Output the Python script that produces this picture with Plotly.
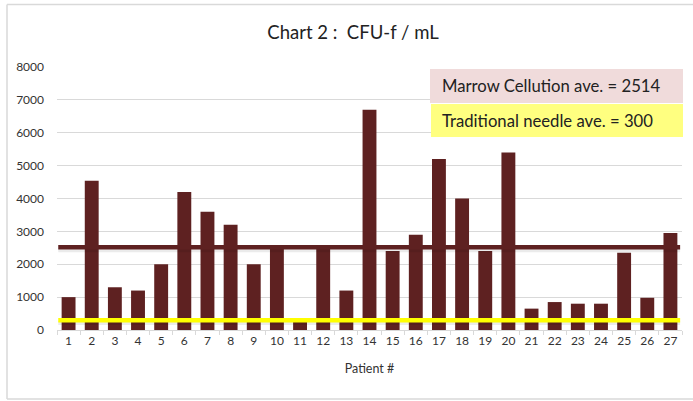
import plotly.graph_objects as go

patients = [str(i) for i in range(1, 28)]
cfu_values = [1000, 4540, 1300, 1200, 2000, 4200, 3600, 3200, 2000, 2500,
              250, 2500, 1200, 6700, 2400, 2900, 5200, 4000, 2400, 5400,
              650, 850, 800, 800, 2350, 980, 2950]
marrow_avg = 2514
needle_avg = 300
y_ticks = [0, 1000, 2000, 3000, 4000, 5000, 6000, 7000, 8000]

W, H = 693, 401
L, R, T, B = 57, 11, 67, 71
pw, ph = W - L - R, H - T - B

def px(x):
    return (x - L) / pw

def py(y):
    return (H - B - y) / ph

FONT = "Lato, 'Open Sans', sans-serif"

fig = go.Figure()
fig.add_trace(go.Bar(x=patients, y=cfu_values, marker=dict(color="#5e2121", line=dict(width=0)),
                     width=0.6, showlegend=False, hoverinfo="skip"))

# shadows + average lines
for val, col in [(marrow_avg, "#5e2121"), (needle_avg, "#ffff00")]:
    fig.add_shape(type="line", xref="x domain", yref="y", x0=0.002, x1=0.997,
                  y0=val - 90, y1=val - 90, line=dict(color="rgba(0,0,0,0.08)", width=4), layer="above")
    fig.add_shape(type="line", xref="x domain", yref="y", x0=0.002, x1=0.997,
                  y0=val, y1=val, line=dict(color=col, width=4.5), layer="above")

# outer border (top, left, bottom)
border = dict(color="#d9d9d9", width=1.5)
fig.add_shape(type="line", xref="paper", yref="paper", x0=px(7), x1=px(693), y0=py(4.5), y1=py(4.5), line=border)
fig.add_shape(type="line", xref="paper", yref="paper", x0=px(7), x1=px(7), y0=py(4.5), y1=py(399), line=border)
fig.add_shape(type="line", xref="paper", yref="paper", x0=px(7), x1=px(693), y0=py(399), y1=py(399), line=border)

# legend boxes
fig.add_shape(type="rect", xref="paper", yref="paper", x0=px(430), x1=px(683), y0=py(103), y1=py(69),
              fillcolor="#f0dbdb", line=dict(width=0), layer="above")
fig.add_shape(type="rect", xref="paper", yref="paper", x0=px(431), x1=px(683), y0=py(137), y1=py(104),
              fillcolor="#ffff80", line=dict(width=0), layer="above")
fig.add_annotation(xref="paper", yref="paper", x=px(440), y=py(86), xanchor="left", yanchor="middle",
                   text=f"Marrow Cellution ave. = {marrow_avg}", showarrow=False,
                   font=dict(family=FONT, size=16.7, color="#222"))
fig.add_annotation(xref="paper", yref="paper", x=px(440), y=py(121), xanchor="left", yanchor="middle",
                   text=f"Traditional needle ave. = {needle_avg}", showarrow=False,
                   font=dict(family=FONT, size=16.7, color="#222"))

fig.update_layout(
    width=W, height=H,
    margin=dict(l=L, r=R, t=T, b=B),
    paper_bgcolor="white", plot_bgcolor="white",
    title=dict(text="Chart 2 :  CFU-f / mL", xref="container", x=353 / W, xanchor="center",
               y=1 - 33 / H, yanchor="middle",
               font=dict(family=FONT, size=18.5, color="#222")),
    font=dict(family=FONT, size=11, color="#333"),
    xaxis=dict(title=dict(text="Patient #", font=dict(size=12.5), standoff=16),
               showline=True, linecolor="#d9d9d9", ticks="outside", tickcolor="#d9d9d9",
               ticklen=4, tickson="boundaries", showgrid=False, tickfont=dict(size=12)),
    yaxis=dict(range=[0, 8000], tickvals=y_ticks, showgrid=True, gridcolor="#d9d9d9",
               zeroline=False, ticks="", tickfont=dict(size=12), ticklabelstandoff=12),
)

fig.write_html("out.html", config={"displayModeBar": False},
               post_script="document.body.style.margin='0';")
